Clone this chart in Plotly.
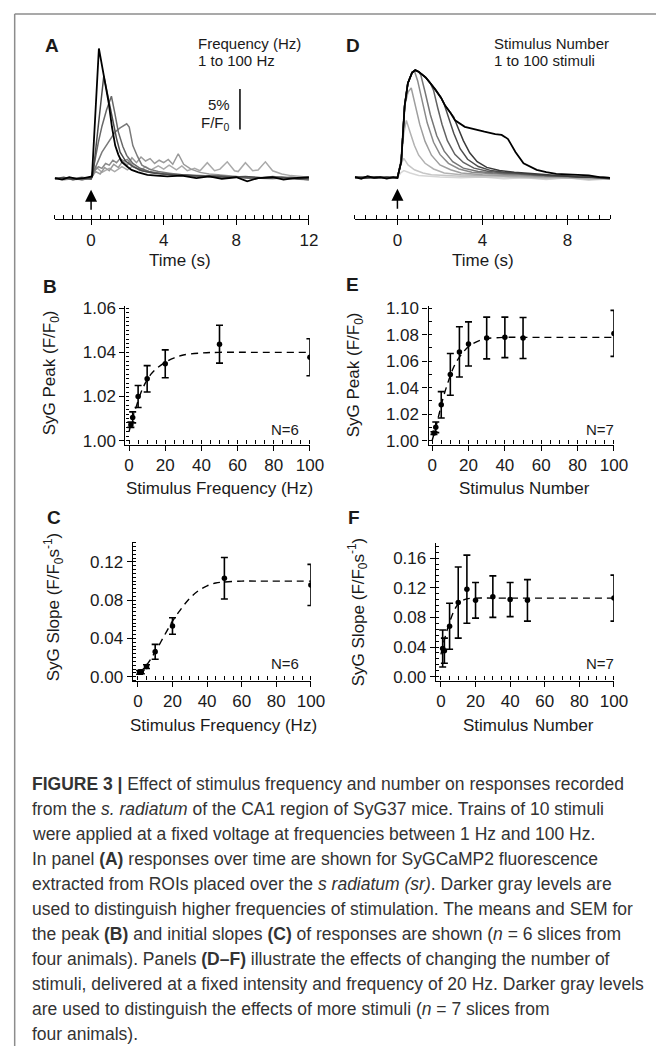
import plotly.graph_objects as go

W, H = 670, 1052

# ---------------- Panel A: frequency traces (time s, % dF/F0) ----------------
A_T1 = [-2, -1.5, -1, -0.5, 0, 0.3, 0.6, 1.0, 1.3, 1.7, 2.0, 2.3, 2.7, 3.0, 3.3, 3.7, 4.0, 4.3, 4.7, 5.0, 5.3, 5.7, 6.0, 6.4, 6.8, 7.1, 7.5, 7.9, 8.1, 8.5, 8.9, 9.2, 9.6, 10.0, 10.5, 11.0, 11.5, 12.0]
A_V1 = [0.0, 0.1, -0.1, 0.0, 0.1, 1.4, 0.8, 1.3, 0.9, 1.5, 1.1, 1.6, 1.0, 1.5, 1.1, 1.6, 1.2, 1.7, 1.1, 1.6, 1.0, 1.3, 1.0, 2.0, 1.0, 1.2, 2.1, 1.0, 0.9, 2.0, 1.0, 1.1, 2.1, 1.0, 0.6, 0.4, 0.3, 0.2]
A_T2 = [-2, -1.5, -1, -0.5, 0, 0.25, 0.5, 0.75, 1.0, 1.25, 1.5, 1.75, 2.0, 2.25, 2.5, 2.75, 3.0, 3.25, 3.5, 3.75, 4.0, 4.25, 4.5, 4.8, 5.1, 5.5, 6.0, 6.5, 7.0, 8.0, 9.0, 10.0, 11.0, 12.0]
A_V2 = [0.0, 0.1, 0.0, -0.1, 0.1, 0.9, 0.6, 1.4, 1.0, 1.8, 1.4, 2.2, 1.7, 2.6, 2.0, 2.7, 2.2, 2.5, 1.9, 2.3, 2.0, 2.4, 1.8, 3.1, 1.8, 1.2, 0.8, 0.6, 0.5, 0.3, 0.2, 0.1, 0.2, 0.0]
A_T5 = [-2, -1.5, -1, -0.5, 0, 0.2, 0.4, 0.6, 0.8, 1.0, 1.2, 1.4, 1.6, 1.8, 2.0, 2.3, 2.7, 3.2, 4.0, 5.0, 6.0, 7.0, 8.0, 9.0, 10.0, 11.0, 12.0]
A_V5 = [0.1, -0.1, 0.0, 0.1, 0.0, 1.0, 1.5, 1.3, 1.9, 1.7, 2.3, 2.0, 2.5, 2.2, 2.4, 1.6, 1.1, 0.8, 0.6, 0.4, 0.3, 0.2, 0.3, 0.1, 0.0, 0.2, 0.0]
A_T10 = [-2, -1.5, -1, -0.5, 0, 0.2, 0.6, 1.0, 1.33, 1.6, 1.96, 2.1, 2.3, 2.55, 2.8, 3.2, 3.7, 4.3, 5.0, 6.0, 7.0, 8.0, 9.0, 10.0, 11.0, 12.0]
A_V10 = [0.0, 0.1, 0.0, 0.2, 0.0, 1.2, 3.3, 4.6, 5.8, 6.3, 6.8, 6.4, 4.1, 2.8, 1.7, 1.2, 0.9, 0.7, 0.5, 0.4, 0.3, 0.2, 0.1, 0.2, 0.0, -0.1]
A_T20 = [-2, -1.5, -1, -0.5, 0, 0.15, 0.4, 0.6, 0.85, 1.12, 1.3, 1.5, 1.75, 1.96, 2.3, 2.7, 3.2, 4.0, 5.0, 6.0, 7.0, 8.0, 9.0, 10.0, 11.0, 12.0]
A_V20 = [0.1, 0.0, 0.1, -0.1, 0.1, 1.5, 4.5, 6.5, 8.5, 10.2, 8.2, 5.8, 4.0, 2.9, 1.9, 1.3, 0.9, 0.6, 0.5, 0.3, 0.4, 0.2, 0.0, 0.3, 0.1, -0.1]
A_T50 = [-2, -1.5, -1.0, -0.5, 0, 0.1, 0.7, 0.9, 1.15, 1.4, 1.6, 1.9, 2.3, 2.8, 3.5, 4.5, 5.5, 6.5, 7.5, 8.5, 9.5, 10.5, 11.5, 12]
A_V50 = [0.0, 0.2, -0.1, 0.1, 0.0, 0.5, 12.7, 10.5, 7.4, 5.0, 3.3, 2.2, 1.5, 1.0, 0.7, 0.5, 0.4, 0.3, 0.2, 0.3, 0.1, 0.2, 0.0, 0.1]
A_T100 = [-2.0, -1.6, -1.2, -0.8, -0.4, -0.1, 0.05, 0.43, 0.7, 0.97, 1.15, 1.33, 1.5, 1.69, 2.0, 2.23, 2.6, 3.1, 3.6, 4.2, 5.0, 5.8, 6.5, 7.2, 8.0, 8.6, 9.2, 10.0, 10.6, 11.2, 12.0]
A_V100 = [0.1, -0.1, 0.2, 0.0, 0.1, 0.2, 0.3, 16.1, 12.8, 9.4, 6.4, 4.1, 3.0, 2.1, 1.5, 1.1, 0.8, 0.5, 0.4, 0.3, 0.4, 0.1, 0.3, 0.0, 0.2, -0.3, 0.1, 0.2, -0.1, 0.1, 0.2]
A_COLORS = ["#aaaaaa", "#9a9a9a", "#8a8a8a", "#7a7a7a", "#686868", "#4a4a4a", "#000000"]

# ---------------- Panel D: stimulus-number traces ----------------
D_T1 = [-2, -1.5, -1, -0.5, 0, 0.15, 0.3, 0.6, 1.0, 1.5, 2.0, 3.0, 4.0, 5.0, 6.0, 7.0, 8.0, 9.0, 10.0]
D_V1 = [0.1, 0.0, 0.1, -0.1, 0.0, 0.6, 0.9, 0.6, 0.3, 0.2, 0.1, 0.0, 0.1, -0.1, 0.0, -0.2, 0.0, -0.3, -0.1]
D_T2 = [-2, -1.5, -1, -0.5, 0, 0.15, 0.3, 0.5, 0.8, 1.2, 1.6, 2.2, 3.0, 4.0, 5.0, 6.0, 7.0, 8.0, 9.0, 10.0]
D_V2 = [0.0, 0.1, 0.0, 0.1, 0.0, 1.6, 2.4, 1.6, 1.0, 0.6, 0.4, 0.3, 0.2, 0.1, 0.1, 0.0, -0.1, 0.0, -0.2, 0.0]
D_T5 = [-2, -1.5, -1, -0.5, 0, 0.15, 0.3, 0.42, 0.6, 0.8, 1.0, 1.3, 1.7, 2.2, 3.0, 4.0, 5.0, 6.0, 7.0, 8.0, 9.0, 10.0]
D_V5 = [0.1, 0.0, 0.1, 0.0, 0.0, 2.0, 5.5, 7.1, 5.6, 4.0, 2.8, 1.8, 1.1, 0.6, 0.4, 0.3, 0.2, 0.1, 0.0, 0.1, -0.1, -0.1]
D_T10 = [-2, -1.5, -1, -0.5, 0, 0.18, 0.34, 0.5, 0.65, 0.85, 1.05, 1.3, 1.6, 2.0, 2.5, 3.0, 4.0, 5.0, 6.0, 7.0, 8.0, 9.0, 10.0]
D_V10 = [0.0, 0.1, 0.0, 0.1, 0.0, 2.0, 8.9, 10.6, 11.1, 9.0, 6.6, 4.5, 2.8, 1.6, 1.0, 0.6, 0.4, 0.3, 0.2, 0.1, 0.0, 0.0, -0.1]
D_T15 = [-2, -1.5, -1, -0.5, 0, 0.18, 0.34, 0.49, 0.69, 0.8, 0.95, 1.15, 1.4, 1.7, 2.0, 2.4, 2.9, 3.5, 4.5, 5.5, 6.5, 7.5, 8.5, 10.0]
D_V15 = [0.1, 0.0, 0.1, 0.0, 0.1, 2.0, 8.9, 11.7, 13.0, 13.2, 12.0, 9.6, 6.8, 4.4, 2.9, 1.8, 1.1, 0.7, 0.5, 0.4, 0.3, 0.2, 0.1, 0.0]
D_T20 = [-2, -1.5, -1, -0.5, 0, 0.18, 0.34, 0.49, 0.69, 0.84, 1.0, 1.1, 1.3, 1.55, 1.85, 2.2, 2.6, 3.1, 3.8, 4.5, 5.5, 6.5, 7.5, 8.5, 10.0]
D_V20 = [0.0, 0.1, 0.0, 0.1, 0.0, 2.0, 8.9, 11.7, 13.0, 13.3, 13.1, 12.7, 10.6, 7.8, 5.2, 3.3, 2.0, 1.2, 0.8, 0.6, 0.5, 0.3, 0.2, 0.1, 0.0]
D_T30 = [-2, -1.5, -1, -0.5, 0, 0.18, 0.34, 0.49, 0.69, 0.84, 1.0, 1.33, 1.55, 1.7, 1.9, 2.1, 2.35, 2.7, 3.1, 3.6, 4.3, 5.0, 6.0, 7.0, 8.0, 9.0, 10.0]
D_V30 = [0.1, 0.0, 0.1, 0.0, 0.0, 2.0, 8.9, 11.7, 13.0, 13.3, 13.1, 12.4, 11.7, 10.8, 8.6, 6.6, 4.6, 2.9, 1.9, 1.2, 0.8, 0.6, 0.5, 0.3, 0.2, 0.1, 0.0]
D_T40 = [-2, -1.5, -1, -0.5, 0, 0.18, 0.34, 0.49, 0.69, 0.84, 1.0, 1.33, 1.55, 1.79, 2.05, 2.2, 2.4, 2.65, 2.95, 3.3, 3.8, 4.4, 5.0, 6.0, 7.0, 8.0, 9.0, 10.0]
D_V40 = [0.0, 0.1, 0.0, 0.1, 0.0, 2.0, 8.9, 11.7, 13.0, 13.3, 13.1, 12.4, 11.7, 10.9, 9.9, 9.1, 7.5, 5.5, 3.6, 2.3, 1.4, 0.9, 0.7, 0.5, 0.3, 0.2, 0.1, -0.1]
D_T50 = [-2, -1.5, -1, -0.5, 0, 0.18, 0.34, 0.49, 0.69, 0.84, 1.0, 1.33, 1.55, 1.79, 2.05, 2.25, 2.5, 2.65, 2.85, 3.1, 3.4, 3.75, 4.2, 4.8, 5.5, 6.5, 7.5, 8.5, 10.0]
D_V50 = [0.1, 0.0, 0.1, 0.0, 0.1, 2.0, 8.9, 11.7, 13.0, 13.3, 13.1, 12.4, 11.7, 10.9, 9.9, 8.9, 8.0, 7.5, 6.2, 4.6, 3.1, 2.0, 1.3, 0.9, 0.7, 0.5, 0.3, 0.1, 0.0]
D_T100 = [-2, -1.7, -1.4, -1.1, -0.8, -0.5, -0.2, 0, 0.18, 0.34, 0.49, 0.69, 0.84, 1.0, 1.33, 1.55, 1.79, 2.05, 2.25, 2.5, 2.71, 3.17, 3.6, 4.09, 4.6, 4.9, 5.09, 5.2, 5.55, 5.93, 6.55, 7.0, 7.47, 8.2, 9.0, 9.5, 10.0]
D_V100 = [0.1, -0.1, 0.2, 0.0, 0.1, -0.1, 0.1, 0.0, 2.0, 8.9, 11.7, 13.0, 13.3, 13.1, 12.4, 11.7, 10.9, 9.9, 8.9, 8.0, 7.1, 6.3, 6.0, 5.7, 5.4, 5.3, 5.0, 4.8, 3.2, 1.8, 1.0, 0.7, 0.5, 0.4, 0.3, 0.1, 0.0]
D_COLORS = ["#d6d6d6", "#c6c6c6", "#b2b2b2", "#9e9e9e", "#8a8a8a", "#767676", "#626262", "#4e4e4e", "#3a3a3a", "#000000"]

# ---------------- Panels B, C: vs stimulus frequency ----------------
FREQ = [1, 2, 5, 10, 20, 50, 100]
B_PEAK = [1.0072, 1.0105, 1.0200, 1.0280, 1.0348, 1.0437, 1.0378]
B_SEM = [0.0012, 0.0025, 0.0050, 0.0060, 0.0063, 0.0086, 0.0084]
B_FIT_X = [0, 2, 4, 6, 8, 10, 12, 15, 20, 25, 30, 40, 50, 70, 100]
B_FIT_Y = [1.0040, 1.0105, 1.0155, 1.0205, 1.0245, 1.0275, 1.0300, 1.0325, 1.0355, 1.0375, 1.0388, 1.0397, 1.0400, 1.0400, 1.0400]
C_SLOPE = [0.0045, 0.0050, 0.0105, 0.0260, 0.0530, 0.1030, 0.0960]
C_SEM = [0.0020, 0.0020, 0.0020, 0.0078, 0.0086, 0.0217, 0.0215]
C_FIT_X = [0, 5, 10, 15, 20, 25, 30, 35, 40, 45, 50, 60, 70, 100]
C_FIT_Y = [0.003, 0.012, 0.026, 0.042, 0.058, 0.071, 0.082, 0.090, 0.095, 0.098, 0.099, 0.100, 0.100, 0.100]

# ---------------- Panels E, F: vs stimulus number ----------------
NSTIM = [1, 2, 5, 10, 15, 20, 30, 40, 50, 100]
E_PEAK = [1.0057, 1.0100, 1.0270, 1.0500, 1.0670, 1.0730, 1.0775, 1.0780, 1.0775, 1.0810]
E_SEM = [0.0010, 0.0040, 0.0100, 0.0158, 0.0190, 0.0167, 0.0158, 0.0153, 0.0155, 0.0174]
E_FIT_X = [0, 2, 4, 6, 8, 10, 12, 15, 20, 25, 30, 40, 50, 70, 100]
E_FIT_Y = [1.000, 1.010, 1.021, 1.032, 1.041, 1.049, 1.056, 1.063, 1.071, 1.075, 1.077, 1.078, 1.078, 1.078, 1.078]
F_SLOPE = [0.038, 0.035, 0.068, 0.100, 0.118, 0.103, 0.108, 0.104, 0.103, 0.106]
F_SEM = [0.025, 0.017, 0.031, 0.048, 0.046, 0.024, 0.028, 0.023, 0.028, 0.031]
F_FIT_X = [0, 2, 4, 6, 8, 10, 12, 15, 20, 30, 50, 100]
F_FIT_Y = [0.030, 0.050, 0.066, 0.080, 0.091, 0.098, 0.102, 0.105, 0.106, 0.106, 0.106, 0.106]

CAPTION = [
    "<b>FIGURE 3 |</b> Effect of stimulus frequency and number on responses recorded",
    "from the <i>s. radiatum</i> of the CA1 region of SyG37 mice. Trains of 10 stimuli",
    "were applied at a fixed voltage at frequencies between 1 Hz and 100 Hz.",
    "In panel <b>(A)</b> responses over time are shown for SyGCaMP2 fluorescence",
    "extracted from ROIs placed over the <i>s radiatum (sr)</i>. Darker gray levels are",
    "used to distinguish higher frequencies of stimulation. The means and SEM for",
    "the peak <b>(B)</b> and initial slopes <b>(C)</b> of responses are shown (<i>n</i> = 6 slices from",
    "four animals). Panels <b>(D–F)</b> illustrate the effects of changing the number of",
    "stimuli, delivered at a fixed intensity and frequency of 20 Hz. Darker gray levels",
    "are used to distinguish the effects of more stimuli (<i>n</i> = 7 slices from",
    "four animals).",
]

FONT = "Liberation Sans, Arial, sans-serif"
CAP_FONT = "Liberation Sans, Arial, sans-serif"
INK = "#1a1a1a"


def fx(px):
    return px / W


def fy(py):
    return 1 - py / H


fig = go.Figure()

# A traces
for (t, v), c in zip([(A_T1, A_V1), (A_T2, A_V2), (A_T5, A_V5), (A_T10, A_V10),
                      (A_T20, A_V20), (A_T50, A_V50), (A_T100, A_V100)], A_COLORS):
    fig.add_trace(go.Scatter(x=t, y=v, mode="lines", xaxis="x", yaxis="y",
                             line=dict(color=c, width=1.8 if c == "#000000" else 1.5),
                             showlegend=False))
# D traces
for (t, v), c in zip([(D_T1, D_V1), (D_T2, D_V2), (D_T5, D_V5), (D_T10, D_V10), (D_T15, D_V15),
                      (D_T20, D_V20), (D_T30, D_V30), (D_T40, D_V40), (D_T50, D_V50),
                      (D_T100, D_V100)], D_COLORS):
    fig.add_trace(go.Scatter(x=t, y=v, mode="lines", xaxis="x2", yaxis="y2",
                             line=dict(color=c, width=1.8 if c == "#000000" else 1.5),
                             showlegend=False))


def add_summary(xs, ys, es, fxs, fys, ax):
    fig.add_trace(go.Scatter(x=fxs, y=fys, mode="lines", xaxis="x" + ax, yaxis="y" + ax,
                             line=dict(color="black", width=1.4, dash="7px,5px"),
                             line_shape="spline", showlegend=False))
    fig.add_trace(go.Scatter(x=xs, y=ys, mode="markers", xaxis="x" + ax, yaxis="y" + ax,
                             marker=dict(color="black", size=5.5),
                             error_y=dict(type="data", array=es, color="black",
                                          thickness=1.6, width=3.5),
                             showlegend=False))


add_summary(FREQ, B_PEAK, B_SEM, B_FIT_X, B_FIT_Y, "3")
add_summary(NSTIM, E_PEAK, E_SEM, E_FIT_X, E_FIT_Y, "4")
add_summary(FREQ, C_SLOPE, C_SEM, C_FIT_X, C_FIT_Y, "5")
add_summary(NSTIM, F_SLOPE, F_SEM, F_FIT_X, F_FIT_Y, "6")


def xax(x0, x1, rng, dtick, mdtick, anchor):
    return dict(domain=[fx(x0), fx(x1)], range=rng, anchor=anchor,
                showline=True, linecolor="black", linewidth=1.2,
                ticks="outside", ticklen=5, tickwidth=1.2, tickcolor="black",
                tick0=0, dtick=dtick,
                minor=dict(dtick=mdtick, tick0=0, ticks="inside", ticklen=4,
                           tickwidth=1, tickcolor="black"),
                showgrid=False, zeroline=False,
                tickfont=dict(family=FONT, size=17, color=INK))


def yax(top, bottom, rng, dtick, mdtick, tick0, fmt, anchor, visible=True):
    return dict(domain=[fy(bottom), fy(top)], range=rng, anchor=anchor, visible=visible,
                showline=True, linecolor="black", linewidth=1.2,
                ticks="outside", ticklen=5, tickwidth=1.2, tickcolor="black",
                tick0=tick0, dtick=dtick, tickformat=fmt,
                minor=dict(dtick=mdtick, tick0=tick0, ticks="inside", ticklen=3,
                           tickwidth=1, tickcolor="black"),
                showgrid=False, zeroline=False,
                tickfont=dict(family=FONT, size=17, color=INK))


layout = dict(
    width=W, height=H, autosize=False,
    margin=dict(l=0, r=0, t=0, b=0),
    paper_bgcolor="white", plot_bgcolor="rgba(0,0,0,0)",
    showlegend=False,
    xaxis=xax(55, 315, [-2, 12], 4, 0.5, "y"),
    yaxis=yax(26.4, 215, [-5.0, 18.0], 5, 1, 0, None, "x", visible=False),
    xaxis2=xax(362, 623, [-2, 10], 4, 0.5, "y2"),
    yaxis2=yax(26.4, 215, [-5.12, 17.88], 5, 1, 0, None, "x2", visible=False),
    xaxis3=xax(127.3, 316, [-2, 100], 20, 5, "y3"),
    yaxis3=yax(303, 443, [0.9982, 1.0609], 0.02, 0.002, 1.0, ".2f", "x3"),
    xaxis4=xax(437.3, 627, [-2, 100], 20, 5, "y4"),
    yaxis4=yax(303, 443, [0.9970, 1.1015], 0.02, 0.01, 1.0, ".2f", "x4"),
    xaxis5=xax(134.7, 317, [-3, 100], 20, 5, "y5"),
    yaxis5=yax(542, 682, [-0.0041, 0.1406], 0.04, 0.004, 0, ".2f", "x5"),
    xaxis6=xax(444.7, 627, [-3, 100], 20, 5, "y6"),
    yaxis6=yax(543, 682, [-0.0053, 0.1800], 0.04, 0.008, 0, ".2f", "x6"),
)
fig.update_layout(**layout)

ann = []


def txt(px, py, s, size=15, xanchor="left", angle=0, font=FONT, color=INK):
    ann.append(dict(x=fx(px), y=fy(py), xref="paper", yref="paper", text=s,
                    showarrow=False, xanchor=xanchor, yanchor="middle", textangle=angle,
                    font=dict(family=font, size=size, color=color)))


# panel letters
for L, px, py in [("A", 52, 39), ("B", 50, 283), ("C", 54, 517),
                  ("D", 360, 39), ("E", 360, 281), ("F", 361, 517)]:
    txt(px, py, "<b>%s</b>" % L, size=19, xanchor="center")

txt(199, 37, "Frequency (Hz)")
txt(199, 54, "1 to 100 Hz")
txt(502, 37, "Stimulus Number")
txt(502, 54, "1 to 100 stimuli")
txt(236, 99, "5%", xanchor="right")
txt(236, 118, "F/F<sub>0</sub>", xanchor="right")

for s, px, py in [("N=6", 290, 428), ("N=7", 613, 428), ("N=6", 290, 665), ("N=7", 613, 665)]:
    txt(px, py, s, size=15, xanchor="center")

# axis titles
for s, px, py in [("Time (s)", 183, 257), ("Time (s)", 493, 257),
                  ("Stimulus Frequency (Hz)", 223, 488), ("Stimulus Number", 535, 488),
                  ("Stimulus Frequency (Hz)", 228, 727), ("Stimulus Number", 540, 727)]:
    txt(px, py, s, size=17, xanchor="center")

for s, px, py in [("SyG Peak (F/F<sub>0</sub>)", 52, 370), ("SyG Peak (F/F<sub>0</sub>)", 363, 372),
                  ("SyG Slope (F/F<sub>0</sub>s<sup>-1</sup>)", 54, 607),
                  ("SyG Slope (F/F<sub>0</sub>s<sup>-1</sup>)", 365, 612)]:
    txt(px, py, s, size=17, xanchor="center", angle=-90)

# stimulus arrows
for xr, yr in [("x", "y"), ("x2", "y2")]:
    ann.append(dict(x=0, y=-1.35, ax=0, ay=-4.0, xref=xr, yref=yr, axref=xr, ayref=yr,
                    text="", showarrow=True, arrowhead=2, arrowsize=1.6, arrowwidth=1.5,
                    arrowcolor="black"))

# caption
for i, line in enumerate(CAPTION):
    txt(30, 787 + 25.3 * i, line, size=17.5, font=CAP_FONT, color="#333333")

fig.update_layout(annotations=ann)

# scale bar (5 % F/F0) and figure frame
SCALE_T, SCALE_Y0, SCALE_PCT = 8.2, 6.1, 5
fig.add_shape(type="line", xref="x", yref="y", x0=SCALE_T, x1=SCALE_T,
              y0=SCALE_Y0, y1=SCALE_Y0 + SCALE_PCT, line=dict(color="black", width=1.5))
fig.add_shape(type="line", xref="paper", yref="paper", x0=fx(14), x1=1, y0=fy(7), y1=fy(7),
              line=dict(color="#8c8c8c", width=1.5))
fig.add_shape(type="line", xref="paper", yref="paper", x0=fx(14), x1=fx(14), y0=fy(7), y1=0,
              line=dict(color="#8c8c8c", width=1.5))

fig.write_html(
    "out.html",
    config={"displayModeBar": False},
    post_script="document.body.style.margin='0';document.body.style.padding='0';"
                "document.documentElement.style.overflow='hidden';",
)
